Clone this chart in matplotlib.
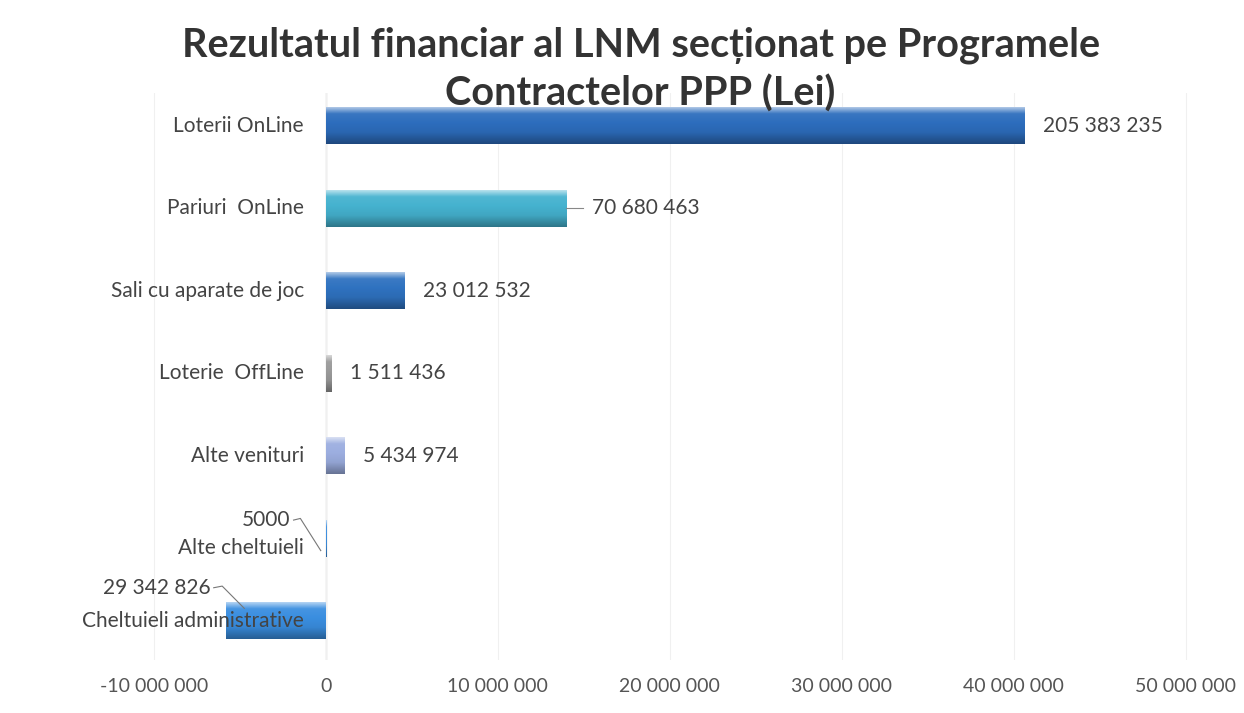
import numpy as np
import matplotlib
matplotlib.use("Agg")
import matplotlib.pyplot as plt
from matplotlib.colors import to_rgb

categories = ["Loterii OnLine", "Pariuri  OnLine", "Sali cu aparate de joc", "Loterie  OffLine",
              "Alte venituri", "Alte cheltuieli", "Cheltuieli administrative"]
values = [205383235, 70680463, 23012532, 1511436, 5434974, -5000, -29342826]
value_labels = ["205 383 235", "70 680 463", "23 012 532", "1 511 436", "5 434 974", "5000", "29 342 826"]
bar_colors = ["#2d6dbd", "#45b2cf", "#2f72c0", "#9a9a9a", "#9caee0", "#3d8fe0", "#3a8ee0"]
tick_values = [-10000000, 0, 10000000, 20000000, 30000000, 40000000, 50000000]
tick_labels = ["-10 000 000", "0", "10 000 000", "20 000 000", "30 000 000", "40 000 000", "50 000 000"]
title_lines = ["Rezultatul financiar al LNM secționat pe Programele", "Contractelor PPP (Lei)"]
# the printed axis labels in the original do not match the bar lengths; keep its stretch
axis_scale = 5.06

plt.rcParams["font.family"] = ["Lato", "DejaVu Sans"]

fig = plt.figure(figsize=(12.44, 7.13), dpi=100)
ax = fig.add_axes([0.1125, 0.075, 0.88, 0.795])

pos = np.arange(len(categories))
bars = ax.barh(pos, values, height=0.45, color=bar_colors, zorder=2)


def shade(c, f):
    c = np.array(to_rgb(c))
    if f > 0:
        return c + (1 - c) * f
    return c * (1 + f)


# glossy vertical gradient on each bar
for b, c in zip(bars, bar_colors):
    x0, y0, w, h = b.get_x(), b.get_y(), b.get_width(), b.get_height()
    t = np.linspace(0, 1, 80)
    rows = []
    for v in t:
        if v < 0.2:
            f = 0.7 - v * 3.2
        elif v < 0.7:
            f = 0.06 - (v - 0.2) * 0.25
        else:
            f = -0.07 - (v - 0.7) * 0.9
        rows.append(np.clip(shade(c, f), 0, 1))
    img = np.array(rows).reshape(-1, 1, 3)
    im = ax.imshow(img, extent=(x0, x0 + w, y0 + h, y0), origin="upper", aspect="auto", zorder=2.1)
    im.set_clip_path(b)

ax.set_xlim(-54.7e6, 267.4e6)
ax.set_ylim(6.47, -0.4)

ax.set_xticks([v * axis_scale for v in tick_values])
ax.set_xticklabels(tick_labels, fontsize=14, color="#555555")
ax.tick_params(axis="x", length=0, pad=13)
ax.set_yticks([])
ax.grid(axis="x", color="#f0f0f0", lw=0.8, zorder=0)
for s in ax.spines.values():
    s.set_visible(False)
ax.axvline(0, color="#d2d2d2", lw=1, zorder=1)

# category labels sit just left of the zero line
for i, name in enumerate(categories):
    ax.text(-6.5e6, pos[i] + (0.12 if i == 5 else 0), name, ha="right", va="center",
            fontsize=15, color="#444444", zorder=4)

# value labels
for i in range(5):
    end = values[i]
    off = 5.5e6
    if i == 1:
        ax.plot([end, end + 5e6], [pos[i], pos[i]], color="#888888", lw=0.8, zorder=3)
        off = 7.5e6
    ax.text(end + off, pos[i], value_labels[i], va="center", ha="left",
            fontsize=15, color="#444444")

# negative items: label above-left with a leader line
ax.text(-10.5e6, 4.78, value_labels[5], ha="right", va="center", fontsize=15, color="#444444")
ax.plot([-9.5e6, -7.5e6, -1.5e6], [4.78, 4.76, 5.15], color="#777777", lw=0.8, zorder=3)
ax.text(-34e6, 5.6, value_labels[6], ha="right", va="center", fontsize=15, color="#444444")
ax.plot([-33e6, -30.5e6, -24e6], [5.6, 5.58, 5.85], color="#777777", lw=0.8, zorder=3)

fig.text(0.515, 0.937, title_lines[0], ha="center", va="center", fontsize=28.5,
         fontweight="bold", color="#333333")
fig.text(0.515, 0.868, title_lines[1], ha="center", va="center", fontsize=28.5,
         fontweight="bold", color="#333333")

fig.savefig("out.png", dpi=100, facecolor="white")
